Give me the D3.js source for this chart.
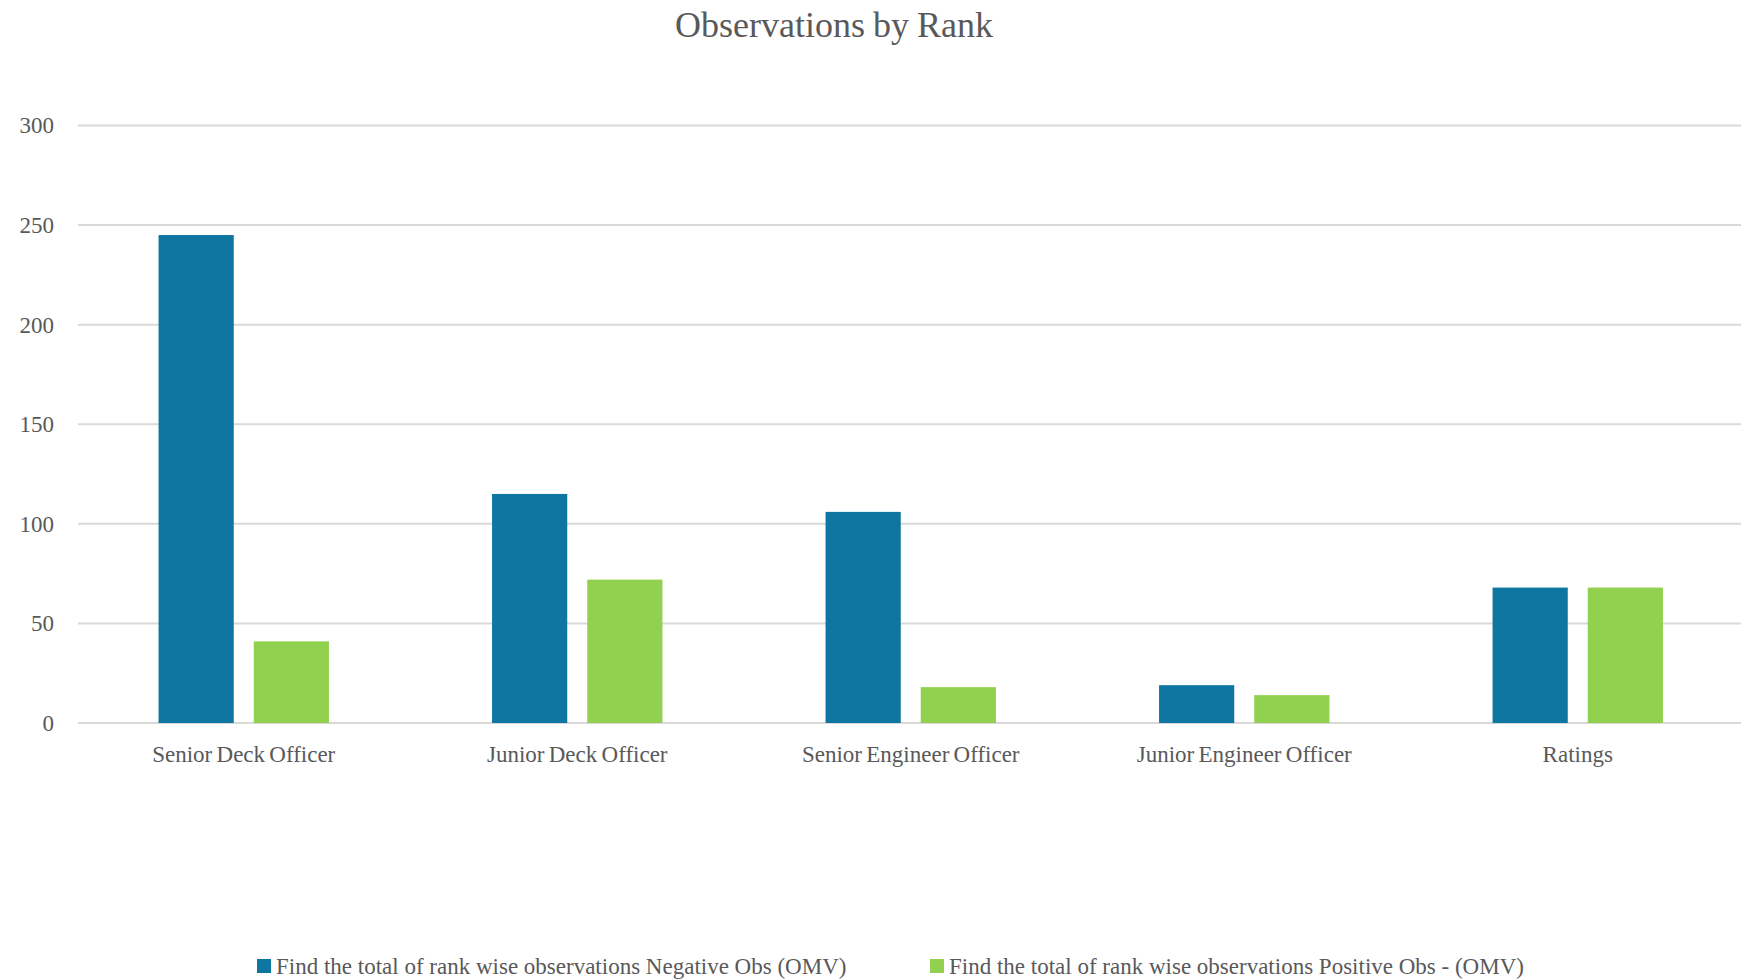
<!DOCTYPE html>
<html>
<head>
<meta charset="utf-8">
<script src="https://cdn.jsdelivr.net/npm/d3@7"></script>
<style>
  html, body { margin: 0; padding: 0; background: #ffffff; }
  svg { display: block; font-family: "Liberation Serif", "Times New Roman", serif; }
</style>
</head>
<body>
<svg id="chart" width="1741" height="980"></svg>
<script>
// Observation counts per rank
const categories = ["Senior Deck Officer", "Junior Deck Officer", "Senior Engineer Officer", "Junior Engineer Officer", "Ratings"];
const seriesNames = [
  "Find the total of rank wise observations Negative Obs (OMV)",
  "Find the total of rank wise observations Positive Obs - (OMV)"
];
const negativeObs = [245, 115, 106, 19, 68];
const positiveObs = [41, 72, 18, 14, 68];
const yTicks = [0, 50, 100, 150, 200, 250, 300];
const seriesColors = ["#0e76a0", "#92d050"];

const width = 1741, height = 980;
const margin = { left: 78, top: 125.5, bottom: 257 };
const svg = d3.select("#chart");

const rows = categories.map((c, i) => ({ category: c, values: [negativeObs[i], positiveObs[i]] }));

// Category bands run slightly past the right edge of the plot
const x = d3.scaleBand().domain(categories).range([77, 1744.5]).padding(0);
const groupWidth = 170.4;
const xSub = d3.scaleBand().domain([0, 1]).range([0, groupWidth]).paddingInner(0.21).paddingOuter(0);
const y = d3.scaleLinear().domain([0, 300]).range([height - margin.bottom, margin.top]);

// Title
svg.append("text")
  .attr("x", 834).attr("y", 37)
  .attr("text-anchor", "middle")
  .attr("font-size", 36)
  .attr("word-spacing", -1)
  .attr("fill", "#595959")
  .text("Observations by Rank");

// Horizontal gridlines
const yAxis = d3.axisLeft(y).tickValues(yTicks).tickSize(0).tickPadding(0);
const gy = svg.append("g").attr("transform", `translate(${margin.left},0)`);
gy.selectAll("line.grid")
  .data(yTicks)
  .join("line")
  .attr("class", "grid")
  .attr("x1", 0).attr("x2", width - margin.left)
  .attr("y1", d => y(d)).attr("y2", d => y(d))
  .attr("stroke", "#d9d9d9")
  .attr("stroke-width", 2);

// Y tick labels
const gyLabels = svg.append("g").attr("transform", `translate(54,0)`).call(yAxis);
gyLabels.select(".domain").remove();
gyLabels.selectAll("text")
  .attr("font-family", "Liberation Serif, Times New Roman, serif")
  .attr("font-size", 23)
  .attr("fill", "#595959")
  .attr("dy", "0.32em");

// Bars
const groups = svg.append("g").selectAll("g.cat")
  .data(rows)
  .join("g")
  .attr("class", "cat")
  .attr("transform", d => `translate(${x(d.category) + x.bandwidth() / 2 - groupWidth / 2},0)`);

groups.selectAll("rect")
  .data(d => d.values.map((v, i) => ({ v, i })))
  .join("rect")
  .attr("x", d => xSub(d.i))
  .attr("width", xSub.bandwidth())
  .attr("y", d => y(d.v))
  .attr("height", d => y(0) - y(d.v))
  .attr("fill", d => seriesColors[d.i]);

// Category labels
const xAxis = d3.axisBottom(x).tickSize(0).tickPadding(0);
const gx = svg.append("g").attr("transform", `translate(0,${y(0)})`).call(xAxis);
gx.select(".domain").remove();
gx.selectAll("text")
  .attr("font-family", "Liberation Serif, Times New Roman, serif")
  .attr("font-size", 23)
  .attr("word-spacing", -1.5)
  .attr("fill", "#595959")
  .attr("dy", null)
  .attr("y", 39);

// Legend
const legendX = [257, 930];
const legend = svg.append("g").selectAll("g.leg")
  .data(seriesNames)
  .join("g")
  .attr("class", "leg")
  .attr("transform", (d, i) => `translate(${legendX[i]},959)`);
legend.append("rect")
  .attr("width", 14).attr("height", 14)
  .attr("fill", (d, i) => seriesColors[i]);
legend.append("text")
  .attr("x", 19).attr("y", 15)
  .attr("font-size", 23)
  .attr("fill", "#595959")
  .text(d => d);
</script>
</body>
</html>
